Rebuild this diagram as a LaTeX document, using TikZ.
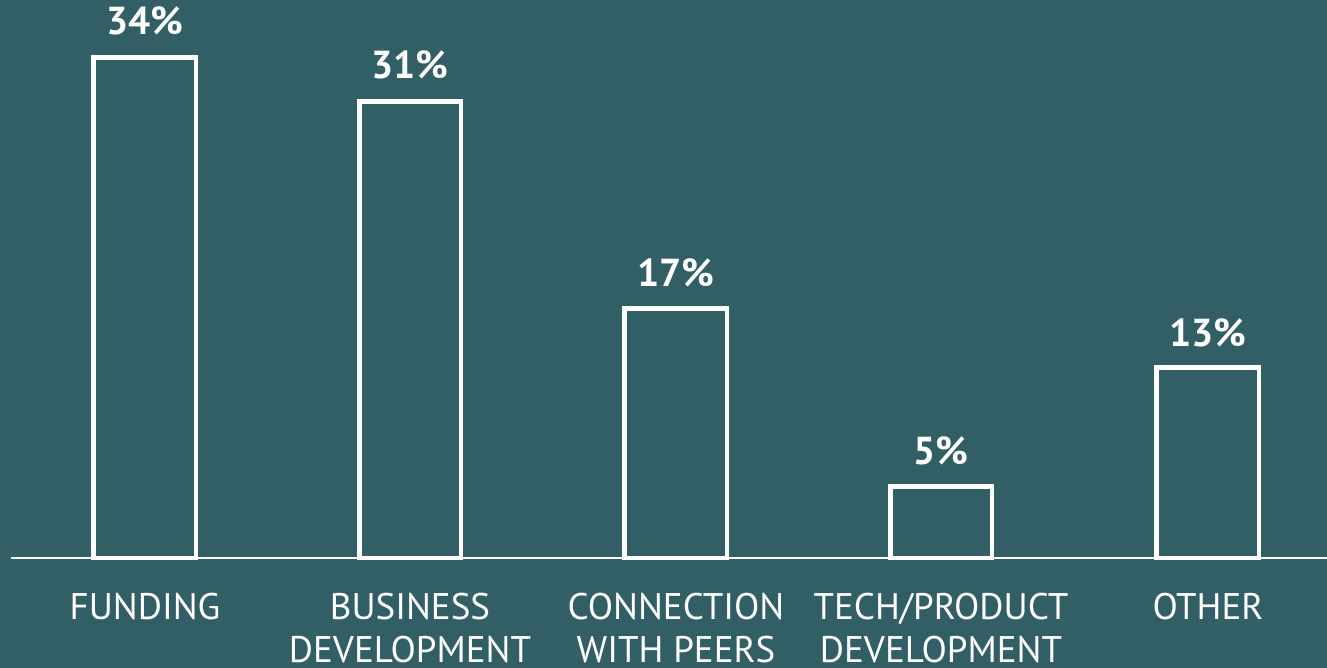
\documentclass[tikz,border=0pt]{standalone}
\usepackage{fontspec}
\setmainfont{PT Sans}
\definecolor{bgteal}{HTML}{325F66}
\begin{document}
\begin{tikzpicture}[x=1pt,y=-1pt,
  bar/.style={draw=white,line width=4.8pt,line join=miter},
  pct/.style={text=white,font=\fontsize{39}{43}\selectfont\bfseries,anchor=base},
  cat/.style={text=white,font=\fontsize{37}{43}\selectfont,align=center,anchor=north,inner sep=0pt}]
\fill[bgteal] (0,0) rectangle (1327,668);
\useasboundingbox (0,0) rectangle (1327,668);
\draw[white,line width=1.6pt] (11,558) -- (1327,558);
\draw[bar] (93.5,558) rectangle (196,57.5);
\draw[bar] (359.5,558) rectangle (461,101.5);
\draw[bar] (624.5,558) rectangle (727,308.5);
\draw[bar] (890.5,558) rectangle (992,486.5);
\draw[bar] (1156.5,558) rectangle (1259,367.5);
\node[pct] (p1) at (145,35) {34\%};
\node[pct] (p2) at (410,79) {31\%};
\node[pct] (p3) at (676,287) {17\%};
\node[pct] (p4) at (941,464) {5\%};
\node[pct] (p5) at (1208,346) {13\%};
\node[cat] (c1) at (145,593) {FUNDING};
\node[cat] (c2) at (410,593) {BUSINESS\\DEVELOPMENT};
\node[cat] (c3) at (676,593) {CONNECTION\\WITH PEERS};
\node[cat] (c4) at (941,593) {TECH/PRODUCT\\DEVELOPMENT};
\node[cat] (c5) at (1208,593) {OTHER};
\end{tikzpicture}
\end{document}
